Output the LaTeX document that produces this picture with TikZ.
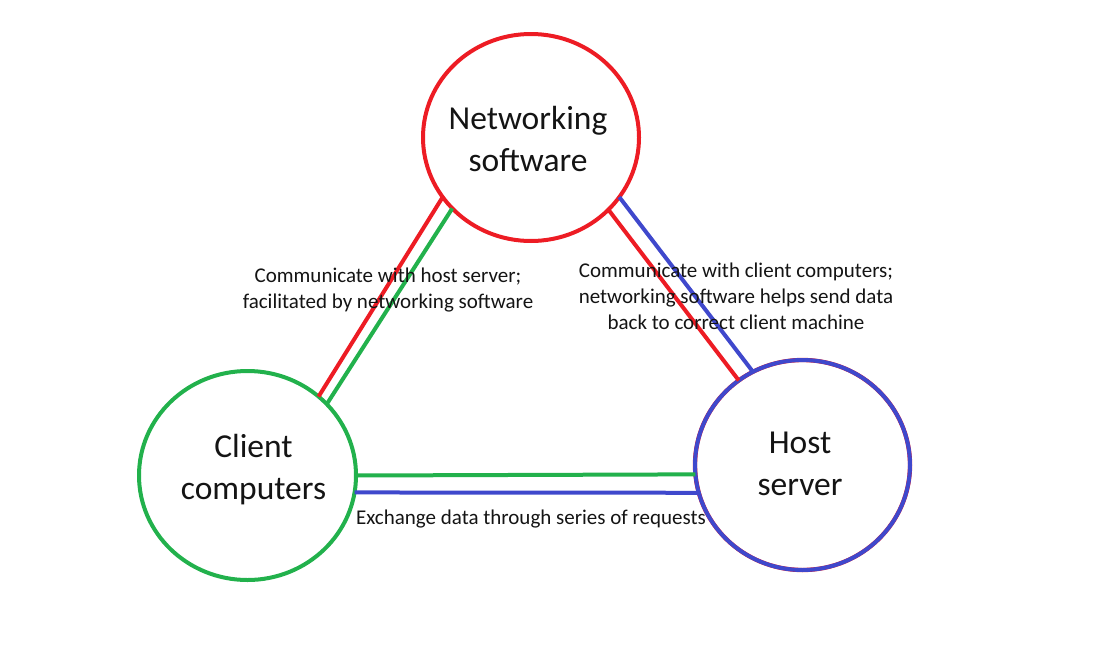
\documentclass[tikz,border=0pt]{standalone}
\usepackage{fontspec}
\setmainfont{Carlito}
\usetikzlibrary{shapes.geometric}
\definecolor{pred}{RGB}{237,28,36}
\definecolor{pgreen}{RGB}{34,177,76}
\definecolor{pblue}{RGB}{63,72,204}
\definecolor{ink}{RGB}{20,20,20}
\tikzset{
  bubble/.style={ellipse, draw, line width=4pt, inner sep=0pt, outer sep=0pt},
  bigtext/.style={align=center, inner sep=0pt, text=ink, font=\fontsize{33.5}{42}\selectfont},
  smalltext/.style={align=center, inner sep=0pt, text=ink, font=\fontsize{21}{26}\selectfont},
  link/.style={line width=4pt}
}
\begin{document}
\begin{tikzpicture}[x=1pt,y=-1pt]
\useasboundingbox (0,0) rectangle (1116,648);
% circles
\node[bubble, pred, minimum width=216pt, minimum height=207pt] (net) at (531,137.5) {};
\node[bubble, pgreen, minimum width=217pt, minimum height=209pt] (cli) at (247.5,475.5) {};
\node[bubble, pred, line width=4.3pt, minimum width=215pt, minimum height=210pt] (hostr) at (802.5,465) {};
\node[bubble, pblue, minimum width=215pt, minimum height=210pt] (host) at (802.5,465) {};
% circle texts
\node[bigtext] (netT) at (528,139) {Networking\\software};
\node[bigtext] (cliT) at (253.5,470) {Client\\computers};
\node[bigtext] (hostT) at (800,464) {Host\\server};
% connectors
\draw[link, pred] (net.214.8) -- (cli.48.4);
\draw[link, pgreen] (net.222.5) -- (cli.42.4);
\draw[link, pred] (net.317) -- (host.127.5);
\draw[link, pblue] (net.326.4) -- (host.118);
\draw[link, pgreen] (cli.0.8) -- (host.185.8);
\draw[link, pblue] (cli.351.8) -- (host.195.6);
% labels
\node[smalltext] (lblL) at (388,290.5) {Communicate with host server;\\facilitated by networking software};
\node[smalltext] (lblR) at (736,296) {Communicate with client computers;\\networking software helps send data\\back to correct client machine};
\node[smalltext] (lblB) at (531,519) {Exchange data through series of requests};
\end{tikzpicture}
\end{document}
